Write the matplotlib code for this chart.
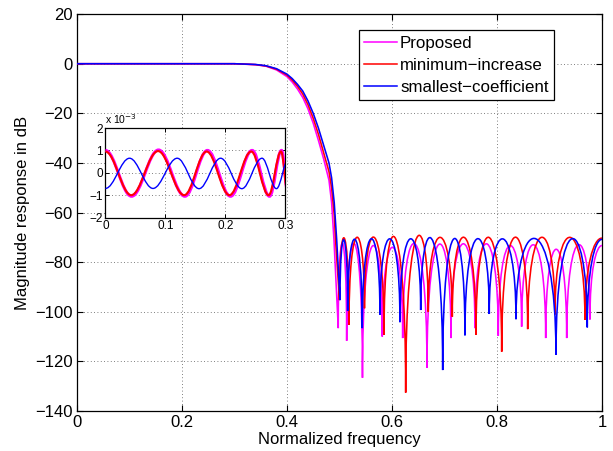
import matplotlib
matplotlib.use('Agg')
import matplotlib.pyplot as plt
from matplotlib.path import Path
from matplotlib.patches import PathPatch
from matplotlib.lines import Line2D

plt.rcParams['font.family'] = ['Liberation Sans', 'DejaVu Sans']
plt.rcParams['axes.unicode_minus'] = True

# ---------------- data ----------------
labels = ['Proposed', 'minimum\u2212increase', 'smallest\u2212coefficient']
colors = ['#ff00ff', '#ff0000', '#0000ff']

# passband / transition band samples (normalized frequency, dB)
prop_trans_f = [0, 0.30, 0.34, 0.36, 0.38, 0.40, 0.41, 0.42, 0.43, 0.44, 0.45, 0.46, 0.47, 0.48, 0.485, 0.4895]
prop_trans_db = [0, 0, -0.4, -1.0, -2.5, -5.2, -7.4, -10.2, -13.6, -18.2, -24, -31, -38.5, -47, -56, -71]
minc_trans_f = [0, 0.30, 0.34, 0.36, 0.38, 0.40, 0.41, 0.42, 0.43, 0.44, 0.45, 0.46, 0.47, 0.48, 0.485, 0.49, 0.4925]
minc_trans_db = [0, 0, -0.35, -0.9, -2.2, -4.6, -6.6, -9.1, -12.2, -16.5, -22, -28.5, -36, -43.5, -50, -61, -71]
smal_trans_f = [0, 0.30, 0.34, 0.36, 0.38, 0.40, 0.41, 0.42, 0.43, 0.44, 0.45, 0.46, 0.47, 0.48, 0.485, 0.49, 0.4947]
smal_trans_db = [0, 0, -0.3, -0.8, -2.0, -4.2, -6.0, -8.3, -11, -15, -20, -26, -33, -40, -46, -56, -71]

# stopband nulls (frequency, depth in dB) and lobe peak levels (dB)
prop_null_f = [0.4977, 0.5137, 0.5438, 0.5815, 0.6204, 0.6667, 0.7124, 0.7581, 0.8025, 0.8470, 0.8928, 0.9328, 0.9771, 1.0229]
prop_null_db = [-106.6, -111.7, -126.6, -110.0, -110.6, -122.6, -110.6, -106.6, -109.7, -106.0, -110.6, -110.6, -103.1, -103.1]
prop_peak_db = [-72.3, -72.6, -73.5, -74.0, -72.6, -72.8, -72.6, -72.6, -73.3, -73.0, -74.8, -73.0, -73.3]

minc_null_f = [0.5000, 0.5181, 0.5476, 0.5848, 0.6261, 0.6691, 0.7149, 0.7600, 0.8090, 0.8585, 0.9105, 0.9676, 1.0324]
minc_null_db = [-95.3, -105.3, -98.6, -109.3, -132.6, -100.0, -102.0, -109.3, -116.1, -107.0, -101.1, -103.3, -103.3]
minc_peak_db = [-70.3, -70.0, -70.0, -70.0, -70.0, -70.0, -70.0, -70.0, -70.0, -70.0, -70.0, -70.3]

smal_null_f = [0.5010, 0.5156, 0.5434, 0.5771, 0.6152, 0.6547, 0.6966, 0.7390, 0.7853, 0.8362, 0.9124, 0.9720, 1.0280]
smal_null_db = [-95.3, -99.7, -106.6, -101.3, -104.2, -99.3, -123.5, -109.5, -100.9, -103.0, -117.3, -106.3, -106.3]
smal_peak_db = [-71.0, -70.8, -70.6, -70.6, -70.6, -70.6, -70.6, -70.6, -70.6, -70.6, -70.6, -70.8]

# passband ripple (inset), extrema positions and values in units of 1e-3 dB
prop_rip_f = [0, 0.0435, 0.0885, 0.1325, 0.1700, 0.2085, 0.2445, 0.2735, 0.2935, 0.3050]
prop_rip_v = [1.0, -1.05, 1.02, -1.05, 1.0, -1.05, 1.0, -1.05, 1.0, -1.05]
minc_rip_f = [0, 0.0430, 0.0877, 0.1313, 0.1687, 0.2067, 0.2430, 0.2720, 0.2927, 0.3045]
minc_rip_v = [0.95, -1.0, 0.97, -1.0, 0.95, -1.0, 0.95, -1.0, 0.95, -1.0]
smal_rip_f = [0, 0.0402, 0.0793, 0.1196, 0.1560, 0.1920, 0.2274, 0.2610, 0.2850, 0.3054]
smal_rip_v = [-0.70, 0.65, -0.70, 0.65, -0.71, 0.65, -0.71, 0.65, -0.71, 0.65]

x_ticks = [0, 0.2, 0.4, 0.6, 0.8, 1]
x_ticklabels = ['0', '0.2', '0.4', '0.6', '0.8', '1']
y_ticks = [-140, -120, -100, -80, -60, -40, -20, 0, 20]
in_x_ticks = [0, 0.1, 0.2, 0.3]
in_x_ticklabels = ['0', '0.1', '0.2', '0.3']
in_y_ticks = [-2, -1, 0, 1, 2]


def response_path(tf, tdb, nf, ndb, pk):
    verts = [(tf[0], tdb[0])]
    codes = [Path.MOVETO]
    for f, d in zip(tf[1:], tdb[1:]):
        verts.append((f, d))
        codes.append(Path.LINETO)
    verts.append((nf[0], ndb[0]))
    codes.append(Path.LINETO)
    for i in range(len(pk)):
        a, b = nf[i], nf[i + 1]
        da, db = ndb[i], ndb[i + 1]
        c = (pk[i] - (da + db) / 8.0) / 0.75
        verts += [(a, c), (b, c), (b, db)]
        codes += [Path.CURVE4] * 3
    return Path(verts, codes)


def ripple_path(xs, ys, k=0.3642):
    verts = [(xs[0], ys[0])]
    codes = [Path.MOVETO]
    for i in range(len(xs) - 1):
        x0, x1 = xs[i], xs[i + 1]
        y0, y1 = ys[i], ys[i + 1]
        w = x1 - x0
        verts += [(x0 + k * w, y0), (x1 - k * w, y1), (x1, y1)]
        codes += [Path.CURVE4] * 3
    return Path(verts, codes)


fig = plt.figure(figsize=(6.13, 4.51), dpi=100)
ax = fig.add_axes([0.1256, 0.0887, 0.8564, 0.880])

main_data = [
    (prop_trans_f, prop_trans_db, prop_null_f, prop_null_db, prop_peak_db),
    (minc_trans_f, minc_trans_db, minc_null_f, minc_null_db, minc_peak_db),
    (smal_trans_f, smal_trans_db, smal_null_f, smal_null_db, smal_peak_db),
]
for (tf, tdb, nf, ndb, pk), col in zip(main_data, colors):
    p = PathPatch(response_path(tf, tdb, nf, ndb, pk), facecolor='none',
                  edgecolor=col, lw=1.15, transform=ax.transData, zorder=3)
    ax.add_patch(p)

ax.set_xlim(0, 1)
ax.set_ylim(-140, 20)
ax.set_xticks(x_ticks)
ax.set_xticklabels(x_ticklabels)
ax.set_yticks(y_ticks)
ax.tick_params(direction='in', length=4, width=0.8, top=True, right=True,
               labelsize=12, pad=3, colors='black')
ax.grid(True, linestyle=(0, (1, 3)), color='#555555', linewidth=0.6)
for s in ax.spines.values():
    s.set_linewidth(0.9)
ax.set_xlabel('Normalized frequency', fontsize=12, labelpad=1)
ax.set_ylabel('Magnitude response in dB', fontsize=12, labelpad=4)

handles = [Line2D([], [], color=c, lw=1.1) for c in colors]
leg = ax.legend(handles, labels, loc='upper right', bbox_to_anchor=(0.9086, 0.9597),
                fontsize=12.2, frameon=True, fancybox=False, framealpha=1,
                edgecolor='black', borderpad=0.32, labelspacing=0.42,
                handlelength=1.9, handletextpad=0.2, borderaxespad=0)
leg.get_frame().set_linewidth(0.9)

# inset
axin = fig.add_axes([0.172, 0.5177, 0.2936, 0.1984])
rip_data = [(prop_rip_f, prop_rip_v, 2.2), (minc_rip_f, minc_rip_v, 1.5), (smal_rip_f, smal_rip_v, 1.0)]
for (xs, ys, lw), col in zip(rip_data, colors):
    p = PathPatch(ripple_path(xs, ys), facecolor='none', edgecolor=col, lw=lw,
                  transform=axin.transData, zorder=3)
    axin.add_patch(p)
axin.set_xlim(0, 0.3)
axin.set_ylim(-2, 2)
axin.set_xticks(in_x_ticks)
axin.set_xticklabels(in_x_ticklabels)
axin.set_yticks(in_y_ticks)
axin.tick_params(direction='in', length=3, width=0.7, top=True, right=True,
                 labelsize=8.5, pad=2)
axin.grid(True, linestyle=(0, (1, 3)), color='#555555', linewidth=0.6)
for s in axin.spines.values():
    s.set_linewidth(0.9)
axin.text(0.0, 1.02, 'x 10$^{-3}$', transform=axin.transAxes, fontsize=7.5,
          ha='left', va='bottom')

fig.savefig('out.png', dpi=100)
